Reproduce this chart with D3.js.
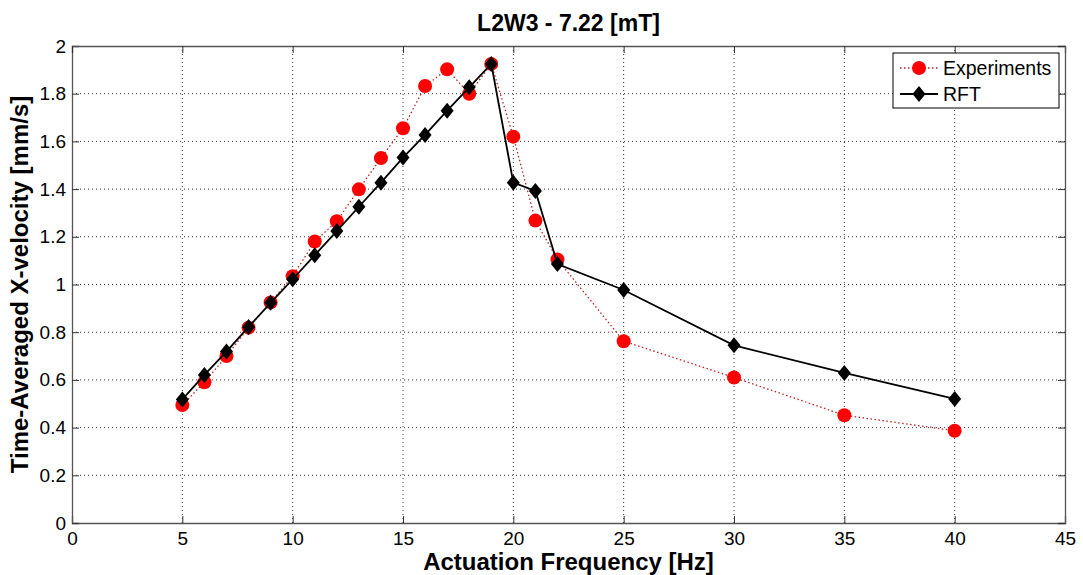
<!DOCTYPE html>
<html>
<meta charset="utf-8">
<title>L2W3 - 7.22 [mT]</title>
<script src="https://d3js.org/d3.v7.min.js" charset="utf-8"></script>
<style>
	body { margin: 0; background: #fff; }
	text { font-family: Arial, "Liberation Sans", sans-serif; fill: #000; }
	.grid line { stroke: #333; stroke-width: 1; stroke-dasharray: 1,3; }
	.tick-label { font-size: 19px; }
</style>
<body>
<script>

	// data
	var freqExp = [5, 6, 7, 8, 9, 10, 11, 12, 13, 14, 15, 16, 17, 18, 19, 20, 21, 22, 25, 30, 35, 40];
	var velExp = [0.495, 0.59, 0.70, 0.819, 0.925, 1.035, 1.18, 1.265, 1.399, 1.53, 1.655, 1.832, 1.902, 1.80, 1.925, 1.62, 1.268, 1.105, 0.762, 0.61, 0.452, 0.387];
	var freqRft = [5, 6, 7, 8, 9, 10, 11, 12, 13, 14, 15, 16, 17, 18, 19, 20, 21, 22, 25, 30, 35, 40];
	var velRft = [0.518, 0.621, 0.719, 0.822, 0.923, 1.022, 1.123, 1.224, 1.326, 1.427, 1.532, 1.627, 1.729, 1.827, 1.925, 1.427, 1.392, 1.086, 0.977, 0.745, 0.629, 0.52];
	var xTicks = [0, 5, 10, 15, 20, 25, 30, 35, 40, 45];
	var yTicks = [0, 0.2, 0.4, 0.6, 0.8, 1, 1.2, 1.4, 1.6, 1.8, 2];
	var seriesNames = ["Experiments", "RFT"];

	var width = 1083, height = 575;
	var margin = {top: 46, right: 18, bottom: 52, left: 72};
	var w = width - margin.left - margin.right, h = height - margin.top - margin.bottom;

	var x = d3.scaleLinear().domain([0, 45]).range([0, w]);
	var y = d3.scaleLinear().domain([0, 2]).range([h, 0]);

	var svg = d3.select("body").append("svg")
		.attr("width", width)
		.attr("height", height)
		.append("g")
			.attr("transform", "translate(" + margin.left + "," + margin.top + ")");

	/* dotted grid */
	var grid = svg.append("g").attr("class", "grid");
	grid.selectAll(".gx")
		.data(xTicks.slice(1, -1))
		.enter().append("line")
		.attr("x1", function(d) { return x(d); })
		.attr("x2", function(d) { return x(d); })
		.attr("y1", 0).attr("y2", h);
	grid.selectAll(".gy")
		.data(yTicks.slice(1, -1))
		.enter().append("line")
		.attr("y1", function(d) { return y(d); })
		.attr("y2", function(d) { return y(d); })
		.attr("x1", 0).attr("x2", w);

	/* axes with inward ticks on all four sides */
	var fmt = function(d) { return d3.format("~g")(d); };
	var axB = svg.append("g").attr("transform", "translate(0," + h + ")")
		.call(d3.axisBottom(x).tickValues(xTicks).tickSize(-7).tickPadding(9).tickFormat(fmt));
	var axL = svg.append("g")
		.call(d3.axisLeft(y).tickValues(yTicks).tickSize(-7).tickPadding(6).tickFormat(fmt));
	var axT = svg.append("g")
		.call(d3.axisTop(x).tickValues(xTicks).tickSize(-7).tickFormat(""));
	var axR = svg.append("g").attr("transform", "translate(" + w + ",0)")
		.call(d3.axisRight(y).tickValues(yTicks).tickSize(-7).tickFormat(""));

	[axB, axL, axT, axR].forEach(function(a) {
		a.select(".domain").attr("stroke", "#555").attr("stroke-width", 1.3);
		a.selectAll(".tick line").attr("stroke", "#333").attr("stroke-width", 1);
		a.selectAll(".tick text").attr("class", "tick-label").attr("font-size", null).attr("font-family", null);
	});
	axB.selectAll(".tick text").attr("dy", "0.71em");

	/* series */
	var expData = freqExp.map(function(f, i) { return [f, velExp[i]]; });
	var rftData = freqRft.map(function(f, i) { return [f, velRft[i]]; });
	var line = d3.line().x(function(d) { return x(d[0]); }).y(function(d) { return y(d[1]); });

	svg.append("path")
		.datum(expData)
		.attr("d", line)
		.attr("fill", "none")
		.attr("stroke", "#b22")
		.attr("stroke-width", 1.3)
		.attr("stroke-dasharray", "1.5,2.5");

	svg.selectAll(".exp")
		.data(expData)
		.enter().append("circle")
		.attr("cx", function(d) { return x(d[0]); })
		.attr("cy", function(d) { return y(d[1]); })
		.attr("r", 7)
		.attr("fill", "#f00");

	svg.append("path")
		.datum(rftData)
		.attr("d", line)
		.attr("fill", "none")
		.attr("stroke", "#000")
		.attr("stroke-width", 1.8);

	var diamond = "M0,-8L6.5,0L0,8L-6.5,0Z";
	svg.selectAll(".rft")
		.data(rftData)
		.enter().append("path")
		.attr("d", diamond)
		.attr("transform", function(d) { return "translate(" + x(d[0]) + "," + y(d[1]) + ")"; })
		.attr("fill", "#000");

	/* legend */
	var lg = svg.append("g").attr("transform", "translate(" + (893 - margin.left) + "," + (53 - margin.top) + ")");
	lg.append("rect")
		.attr("width", 166).attr("height", 55)
		.attr("fill", "#fff").attr("stroke", "#000").attr("stroke-width", 1);
	lg.append("line")
		.attr("x1", 7).attr("x2", 45).attr("y1", 15).attr("y2", 15)
		.attr("stroke", "#b22").attr("stroke-width", 1.3).attr("stroke-dasharray", "1.5,2.5");
	lg.append("circle").attr("cx", 26).attr("cy", 15).attr("r", 7).attr("fill", "#f00");
	lg.append("line")
		.attr("x1", 7).attr("x2", 45).attr("y1", 41).attr("y2", 41)
		.attr("stroke", "#000").attr("stroke-width", 1.8);
	lg.append("path").attr("d", diamond).attr("transform", "translate(26,41)").attr("fill", "#000");
	lg.selectAll(".lt")
		.data(seriesNames)
		.enter().append("text")
		.attr("x", 50)
		.attr("y", function(d, i) { return 15 + i * 26; })
		.attr("dy", "0.35em")
		.attr("font-size", 19.5)
		.text(function(d) { return d; });

	/* title and axis labels */
	svg.append("text")
		.attr("x", w / 2).attr("y", -15)
		.attr("text-anchor", "middle")
		.attr("font-size", 23).attr("font-weight", "bold")
		.text("L2W3 - 7.22 [mT]");

	svg.append("text")
		.attr("x", w / 2).attr("y", h + 47)
		.attr("text-anchor", "middle")
		.attr("font-size", 24).attr("font-weight", "bold")
		.text("Actuation Frequency [Hz]");

	svg.append("text")
		.attr("transform", "translate(" + (-44) + "," + (h / 2) + ")rotate(-90)")
		.attr("text-anchor", "middle")
		.attr("font-size", 24).attr("font-weight", "bold")
		.text("Time-Averaged X-velocity [mm/s]");

</script>
</body>
</html>
